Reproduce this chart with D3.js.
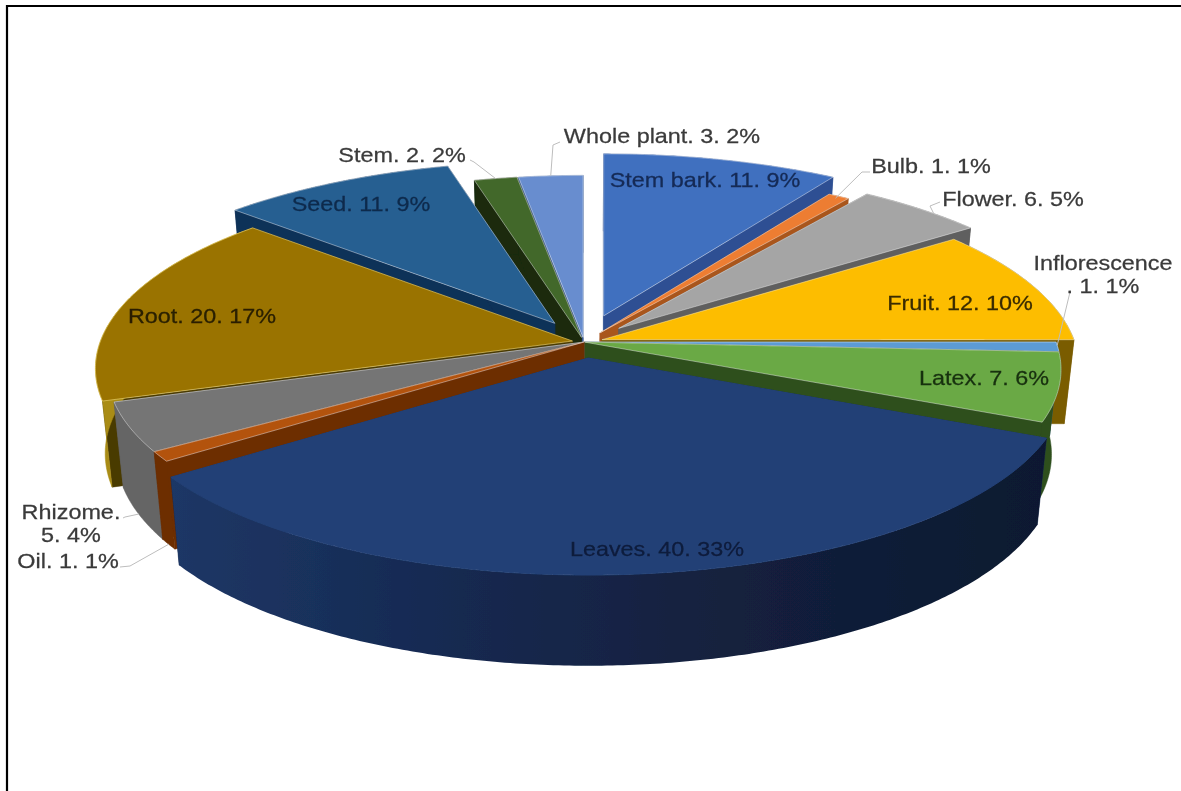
<!DOCTYPE html>
<html>
<head>
<meta charset="utf-8">
<script src="https://cdn.jsdelivr.net/npm/d3@7"></script>
<style>
html,body{margin:0;padding:0;background:#fff;overflow:hidden}
svg{display:block}
</style>
</head>
<body>
<div id="chart"></div>
<script>
// ---- data ----
const categories = ["Stem bark","Bulb","Flower","Fruit","Inflorescence","Latex","Leaves","Oil","Rhizome","Root","Seed","Stem","Whole plant"];
const values     = [11,1,6,12,1,7,40,1,5,20,11,2,3];
const percents   = [9,1,5,10,1,6,33,1,4,17,9,2,2];
const explode    = [0.15,0.06,0.105,0.04,0,0,0.086,0,0,0.025,0.12,0.025,0.025];
const topColors  = ["#3f6fbf","#ed7d31","#a5a5a5","#fdbd00","#5b9bd5","#6aa945","#234176","#b3520f","#747474","#9a7300","#255e91","#43682b","#678dcf"];
const wallColors = ["#2f5093","#a9561f","#5f5f5f","#7a5c00","#3a6f9f","#2e4f1e","#14274d","#6d2e05","#656565","#a98c14","#0f3158","#1a2c0e","#3d5c95"];
const textColors = ["#142a55",null,null,"#3a2c00",null,"#183010","#0f1c3c",null,null,"#2a2000","#0f2a4c",null,null];
const labelLines = [["Stem bark. 11. 9%"],["Bulb. 1. 1%"],["Flower. 6. 5%"],["Fruit. 12. 10%"],["Inflorescence",". 1. 1%"],["Latex. 7. 6%"],["Leaves. 40. 33%"],["Oil. 1. 1%"],["Rhizome.","5. 4%"],["Root. 20. 17%"],["Seed. 11. 9%"],["Stem. 2. 2%"],["Whole plant. 3. 2%"]];

// ---- layout ----
const W = 1181, H = 791;
const cx = 584, cy = 342, R = 472, squash = 185.5, persp = 0.145, wallDepth = 84, floorScale = 0.98;
const labelCenters = [[705,180],[931,166],[1013,199],[960,303],[1103,263],[984,378],[657,549],[68,561],[71,512],[202,316],[361,204],[402,155],[662,136]];
const lineHeight = 23;
const textScale = 1.17, fontSize = 20;
const leaders = {
  1:{ from:[870,172], elbow:[862,172], t:0.5, r:0.985 },
  2:{ from:[940,202], elbow:[930,206], t:0.62, r:1 },
  4:{ from:[1070,292], elbow:[1070,292], t:0.35, r:1 },
  7:{ from:[120,567], elbow:[130,566], t:0.5, r:1, bottom:true },
  8:{ from:[123,518], elbow:[125,517], t:0.5, r:1, bottom:true },
  11:{ from:[470,160], elbow:[474,162], t:0.5, r:1 },
  12:{ from:[560,142], elbow:[553,145], t:0.5, r:1 }
};

// pie-plane -> screen
function project(u, v){
  const f = 1/(1 - persp*v);
  return [R*u*f, squash*v*f];
}
const unit = a => [Math.sin(a), -Math.cos(a)];

const arcs = d3.pie().sort(null).startAngle(0).endAngle(2*Math.PI)(values)
  .map((d,i)=>{
    const mid=(d.startAngle+d.endAngle)/2, m=unit(mid);
    const off=project(m[0]*explode[i], m[1]*explode[i]);
    return {...d, i, mid, midV:m[1], ox:cx+off[0], oy:cy+off[1]};
  })
  .sort((a,b)=>d3.ascending(a.midV,b.midV));

const svg = d3.select("#chart").append("svg").attr("width",W).attr("height",H);
const defs = svg.append("defs");
defs.append("filter").attr("id","soft").attr("x","-5%").attr("y","-5%").attr("width","110%").attr("height","110%")
  .append("feGaussianBlur").attr("stdDeviation",0.6);
const lg = defs.append("linearGradient").attr("id","leafWall").attr("gradientUnits","userSpaceOnUse")
  .attr("x1",170).attr("x2",1048).attr("y1",0).attr("y2",0);
[[0,"#1d3766"],[0.3,"#162a52"],[0.6,"#13213f"],[1,"#0e1930"]].forEach(s=>lg.append("stop").attr("offset",s[0]).attr("stop-color",s[1]));

svg.append("rect").attr("width",W).attr("height",H).attr("fill","#fff");
const root = svg.append("g").attr("filter","url(#soft)");

// frame: left and top edges only, as in the reference
root.append("path").attr("d",d3.line()([[7,H+6],[7,6],[W+6,6]]))
  .attr("fill","none").attr("stroke","#000").attr("stroke-width",2.2);

const line = d3.line();
function topPt(d,a,r=1){
  const p=unit(a), q=project(p[0]*r,p[1]*r);
  return [d.ox+q[0], d.oy+q[1]];
}
function botPt(d,a,r=1){
  const p=unit(a), q=project(p[0]*r,p[1]*r);
  const depth=wallDepth*(1+0.08*p[1]*r);
  return [cx+(d.ox+q[0]-cx)*floorScale, d.oy+q[1]+depth];
}
function angles(d){
  const n=Math.max(4,Math.ceil((d.endAngle-d.startAngle)/0.01));
  return d3.range(n+1).map(k=>d.startAngle+(d.endAngle-d.startAngle)*k/n);
}

const slices = root.selectAll("g.slice").data(arcs).join("g").attr("class","slice");
slices.each(function(d){
  const g=d3.select(this), as=angles(d);
  const wallFill = d.i===6 ? "url(#leafWall)" : wallColors[d.i];
  const radialFill = d3.color(wallColors[d.i]);
  // radial walls
  [d.startAngle,d.endAngle].forEach(a=>{
    const ap=[d.ox,d.oy], b0=[cx+(d.ox-cx)*floorScale,d.oy+wallDepth];
    let fill=radialFill;
    if(d.i===9) fill="#4a3a04";
    g.append("path").attr("d",line([ap,topPt(d,a),botPt(d,a),b0])+"Z")
      .attr("fill",fill).attr("stroke",fill).attr("stroke-width",0.5);
  });
  // outer wall
  const band=as.map(a=>topPt(d,a)).concat(as.slice().reverse().map(a=>botPt(d,a)));
  g.append("path").attr("d",line(band)+"Z").attr("fill",wallFill).attr("stroke",d.i===6?"none":wallColors[d.i]).attr("stroke-width",0.5);
  // top face
  const face=[[d.ox,d.oy]].concat(as.map(a=>topPt(d,a)));
  g.append("path").attr("d",line(face)+"Z").attr("fill",topColors[d.i])
    .attr("stroke",d.i===6?"#234176":(d.i===9?"#f0d878":"#fff"))
    .attr("stroke-opacity",d.i===6?1:(d.i===9?0.6:0.42))
    .attr("stroke-width",1).attr("stroke-linejoin","round");
});

// leader lines
const byIndex = new Map(arcs.map(d=>[d.i,d]));
Object.entries(leaders).forEach(([k,l])=>{
  const d=byIndex.get(+k), a=d.startAngle+(d.endAngle-d.startAngle)*l.t;
  const end=l.bottom?botPt(d,a,l.r):topPt(d,a,l.r);
  root.append("path").attr("d",line([l.from,l.elbow,end])).attr("fill","none").attr("stroke","#bdbdbd").attr("stroke-width",1);
});

// labels
const labels = root.selectAll("g.lab").data(categories).join("g").attr("class","lab")
  .attr("transform",(c,i)=>`translate(${labelCenters[i][0]},${labelCenters[i][1]}) scale(${textScale},1)`);
labels.each(function(c,i){
  const g=d3.select(this), lines=labelLines[i], col=textColors[i]||"#3a3a3a";
  const t=g.append("text").attr("text-anchor","middle")
    .attr("font-family","'Liberation Sans',Arial,sans-serif").attr("font-size",fontSize)
    .attr("fill",col).attr("stroke",col).attr("stroke-width",0.25).attr("y",7);
  lines.forEach((s,j)=>{
    t.append("tspan").attr("x",0).attr("dy",j?lineHeight:0).text(s);
  });
});
</script>
</body>
</html>
